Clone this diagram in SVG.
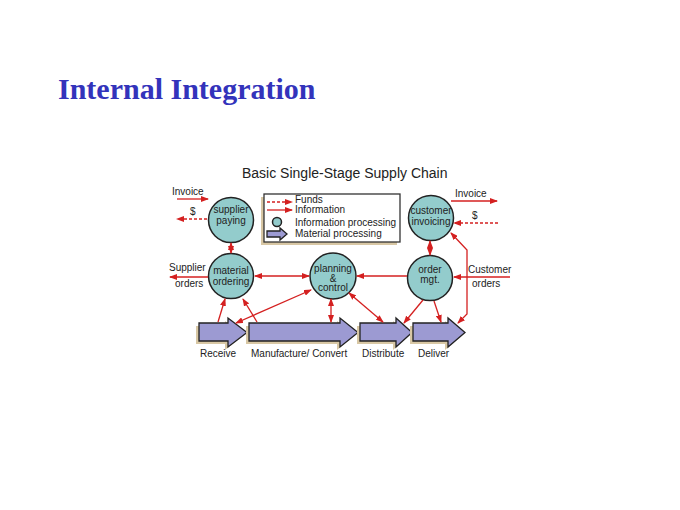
<svg xmlns="http://www.w3.org/2000/svg" width="680" height="510" viewBox="0 0 680 510">
<style>
.t{font-family:"Liberation Sans",Arial,sans-serif;font-size:10px;fill:#222}
.c{text-anchor:middle}
.node{fill:#93cccc;stroke:#222;stroke-width:1.5}
.blk{fill:#9c9ad2;stroke:#222;stroke-width:1.3}
.sh{fill:#d8c7a4}
.ln{stroke:#d42020;stroke-width:1.3;fill:none}
.e{marker-end:url(#ah)}
.b{marker-start:url(#ah);marker-end:url(#ah)}
.d{stroke-dasharray:3,2}
</style>
<defs>
<marker id="ah" markerUnits="userSpaceOnUse" markerWidth="8" markerHeight="6" refX="7" refY="3" orient="auto-start-reverse">
<path d="M0,0 L8,3 L0,6 z" fill="#d42020"/>
</marker>
</defs>
<rect width="680" height="510" fill="#fff"/>
<text x="58" y="99" font-family="Liberation Serif,'Times New Roman',serif" font-weight="bold" font-size="30" fill="#3333bb">Internal Integration</text>
<text x="242" y="178" font-family="Liberation Sans,Arial,sans-serif" font-size="14" fill="#222">Basic Single-Stage Supply Chain</text>

<g id="legend">
<rect class="sh" x="261" y="197" width="136" height="48"/>
<rect x="264" y="194" width="136" height="48" fill="#fff" stroke="#333" stroke-width="1.3"/>
<line class="ln d e" x1="267" y1="202" x2="292" y2="202"/>
<line class="ln e" x1="267" y1="210" x2="292" y2="210"/>
<circle cx="277" cy="222" r="4.5" class="node" stroke-width="1"/>
<path class="blk" d="M267,231 H280 V228 L287,234 L280,240 V237 H267 Z"/>
<text class="t" font-size="8.2" x="295" y="203">Funds</text>
<text class="t" font-size="8.2" x="295" y="212.5">Information</text>
<text class="t" font-size="9.2" x="295" y="226">Information processing</text>
<text class="t" font-size="9.2" x="295" y="237">Material processing</text>
</g>

<g id="supplier-paying">
<circle class="node" cx="231" cy="220" r="22.5"/>
<text class="t c" x="231" y="213">supplier</text>
<text class="t c" x="231" y="224">paying</text>
</g>
<g id="customer-invoicing">
<circle class="node" cx="431" cy="218" r="22.5"/>
<text class="t c" x="431" y="214">customer</text>
<text class="t c" x="431" y="225">invoicing</text>
</g>
<g id="material-ordering">
<circle class="node" cx="231" cy="276" r="22.5"/>
<text class="t c" font-size="9.5" x="231" y="274">material</text>
<text class="t c" font-size="9.5" x="231" y="285">ordering</text>
</g>
<g id="planning-control">
<circle class="node" cx="333" cy="276" r="23"/>
<text class="t c" font-size="8.6" x="333" y="272">planning</text>
<text class="t c" font-size="8.6" x="333" y="281.5">&amp;</text>
<text class="t c" font-size="8.6" x="333" y="291">control</text>
</g>
<g id="order-mgt">
<circle class="node" cx="430" cy="278" r="22.5"/>
<text class="t c" x="430" y="273">order</text>
<text class="t c" x="430" y="283">mgt.</text>
</g>

<g id="receive">
<path class="sh" d="M196,326 H225 V321 L244,335 L225,350 V344 H196 Z"/>
<path class="blk" d="M199,323 H228 V318 L247,332.5 L228,347 V341 H199 Z"/>
<text class="t" x="200" y="357">Receive</text>
</g>
<g id="manufacture">
<path class="sh" d="M246,326 H337 V321 L355,335 L337,350 V344 H246 Z"/>
<path class="blk" d="M249,323 H340 V318 L358,332.5 L340,347 V341 H249 Z"/>
<text class="t" x="251" y="357">Manufacture/ Convert</text>
</g>
<g id="distribute">
<path class="sh" d="M357,326 H393 V321 L409,335 L393,350 V344 H357 Z"/>
<path class="blk" d="M360,323 H396 V318 L412,332.5 L396,347 V341 H360 Z"/>
<text class="t" x="362" y="357">Distribute</text>
</g>
<g id="deliver">
<path class="sh" d="M410,326 H445 V321 L462,335 L445,350 V344 H410 Z"/>
<path class="blk" d="M413,323 H448 V318 L465,332.5 L448,347 V341 H413 Z"/>
<text class="t" x="418" y="357">Deliver</text>
</g>

<g id="side-labels">
<text class="t" x="172" y="195">Invoice</text>
<text class="t" x="190" y="215">$</text>
<text class="t" x="169" y="271">Supplier</text>
<text class="t" x="175" y="287">orders</text>
<text class="t" x="455" y="197">Invoice</text>
<text class="t" x="472" y="219">$</text>
<text class="t" x="468" y="273">Customer</text>
<text class="t" x="472" y="287">orders</text>
</g>

<g id="connectors">
<line class="ln e" x1="177" y1="199" x2="208" y2="199"/>
<line class="ln d e" x1="207" y1="219" x2="177" y2="219"/>
<line class="ln e" x1="208" y1="277" x2="170" y2="277"/>
<line class="ln b" x1="231" y1="243" x2="231" y2="253"/>
<line class="ln e" x1="451" y1="201" x2="497" y2="201"/>
<line class="ln d e" x1="498" y1="223" x2="454" y2="223"/>
<line class="ln e" x1="510" y1="277" x2="454" y2="277"/>
<line class="ln b" x1="430" y1="241" x2="430" y2="255"/>
<line class="ln b" x1="255" y1="276" x2="309" y2="276"/>
<line class="ln e" x1="407" y1="276" x2="357" y2="276"/>
<line class="ln e" x1="218" y1="322" x2="225" y2="299"/>
<line class="ln e" x1="257" y1="322" x2="243" y2="299"/>
<line class="ln b" x1="311" y1="290" x2="236" y2="323"/>
<line class="ln b" x1="331" y1="299" x2="331" y2="322"/>
<line class="ln b" x1="349" y1="293" x2="383" y2="322"/>
<line class="ln e" x1="423" y1="300" x2="404" y2="323"/>
<line class="ln e" x1="434" y1="301" x2="441" y2="322"/>
<path class="ln b" d="M458,323 L467,314 V250 L451,233"/>
</g>
</svg>
